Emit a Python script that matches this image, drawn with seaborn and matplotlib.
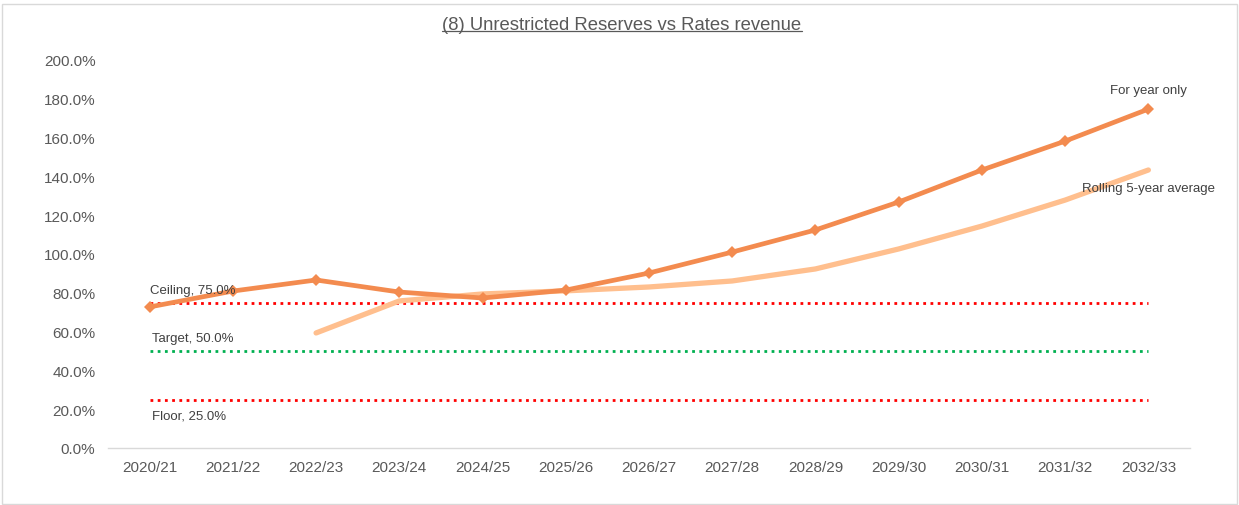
import numpy as np
import pandas as pd
import matplotlib
matplotlib.use("Agg")
import matplotlib.pyplot as plt
import seaborn as sns
from matplotlib.patches import Rectangle

years = ["2020/21", "2021/22", "2022/23", "2023/24", "2024/25", "2025/26", "2026/27",
         "2027/28", "2028/29", "2029/30", "2030/31", "2031/32", "2032/33"]
for_year = [72.7, 80.9, 86.6, 80.4, 77.3, 81.4, 90.2, 101.0, 112.4, 126.8, 143.3, 158.2, 174.7]
rolling = [np.nan, np.nan, 59.3, 75.8, 79.4, 81.0, 83.0, 86.1, 92.3, 102.6, 114.4, 127.8, 143.3]
ceiling = [75.0] * 13
target = [50.0] * 13
floor_ = [25.0] * 13
title = "(8) Unrestricted Reserves vs Rates revenue"

sns.set_theme(style="white")
plt.rcParams['font.family'] = ['Liberation Sans', 'DejaVu Sans']

fig = plt.figure(figsize=(12.39, 5.06), dpi=100)
ax = fig.add_axes([108/1239, 1-449/506, (1190-108)/1239, (449-61)/506])

df = pd.DataFrame({"year": years, "pos": np.arange(len(years)), "for_year": for_year,
                   "rolling": rolling, "ceiling": ceiling, "target": target, "floor": floor_})

sns.lineplot(data=df, x="pos", y="ceiling", ax=ax, color="#FF0000", lw=2, ls=(0, (1, 1.6)))
sns.lineplot(data=df, x="pos", y="target", ax=ax, color="#00B050", lw=2, ls=(0, (1, 1.6)))
sns.lineplot(data=df, x="pos", y="floor", ax=ax, color="#FF0000", lw=2, ls=(0, (1, 1.6)))
sns.lineplot(data=df, x="pos", y="rolling", ax=ax, color="#FFBF8E", lw=3.8)
sns.lineplot(data=df, x="pos", y="for_year", ax=ax, color="#F38B4F", lw=3.4,
             marker="D", markersize=6.5, markeredgewidth=0)

ax.set_xlim(-0.5, len(years) - 0.5)
ax.set_ylim(0, 200)
ax.set_xticks(np.arange(len(years)))
ax.set_xticklabels(years)
ax.set_yticks(np.arange(0, 201, 20))
ax.set_yticklabels([f"{v:.1f}%" for v in np.arange(0, 201, 20)])
ax.tick_params(axis="both", labelsize=11, colors="#595959", length=0)
ax.tick_params(axis="x", pad=9)
ax.tick_params(axis="y", pad=9)
ax.set_xlabel("")
ax.set_ylabel("")
for s in ["top", "right", "left"]:
    ax.spines[s].set_visible(False)
ax.spines["bottom"].set_color("#D9D9D9")
ax.spines["bottom"].set_linewidth(1)
ax.grid(False)

tc = "#404040"
ax.text(0.0, 78.5, "Ceiling, 75.0%", fontsize=9.5, color=tc, ha="left", va="bottom")
ax.text(0.03, 53.5, "Target, 50.0%", fontsize=9.5, color=tc, ha="left", va="bottom")
ax.text(0.03, 13.5, "Floor, 25.0%", fontsize=9.5, color=tc, ha="left", va="bottom")
ax.text(12.0, 181.5, "For year only", fontsize=9.5, color=tc, ha="center", va="bottom")
ax.text(12.0, 131.0, "Rolling 5-year average", fontsize=9.5, color=tc, ha="center", va="bottom")

t = fig.text(622/1239, 1-25/506, title, fontsize=13.3, color="#595959", ha="center", va="center")
fig.canvas.draw()
bb = t.get_window_extent()
inv = fig.transFigure.inverted()
(x0, y0), (x1, y1) = inv.transform([(bb.x0, bb.y0), (bb.x1, bb.y1)])
fig.add_artist(matplotlib.lines.Line2D([x0, x1], [y0 + 0.002, y0 + 0.002], color="#595959", lw=0.9))

fig.add_artist(Rectangle((0.002, 0.002), 0.996, 0.988, transform=fig.transFigure,
                         fill=False, edgecolor="#D9D9D9", lw=1))

fig.savefig("out.png", dpi=100)
